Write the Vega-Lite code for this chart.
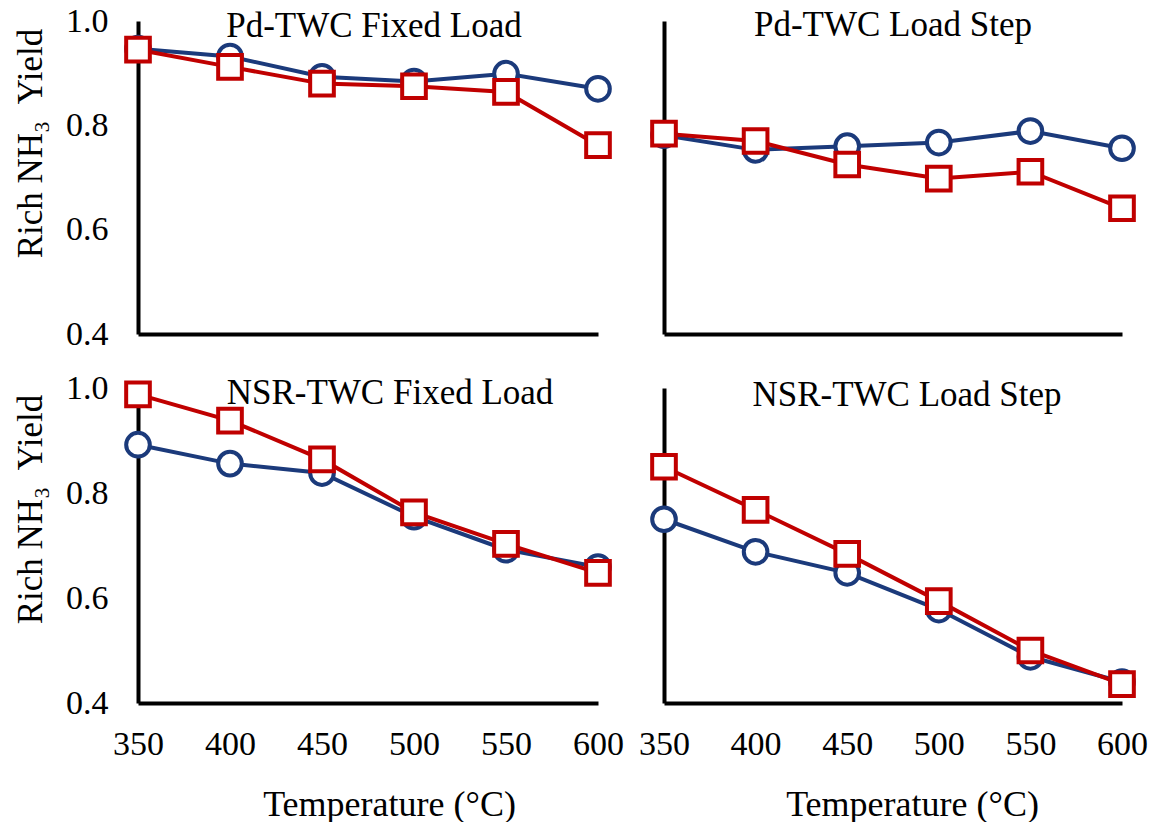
{
  "$schema": "https://vega.github.io/schema/vega-lite/v6.json",
  "padding": {"left": 13, "top": 4, "right": 0, "bottom": 0},
  "background": "white",
  "config": {
    "font": "Liberation Serif",
    "view": {"stroke": null},
    "axis": {"grid": false, "ticks": false, "labelFlush": false, "domainColor": "black", "domainWidth": 4, "labelColor": "black", "titleColor": "black", "labelFont": "Liberation Serif", "titleFont": "Liberation Serif", "labelFontSize": 34, "titleFontSize": 35, "titleFontWeight": "normal"},
    "title": {"font": "Liberation Serif", "fontSize": 35, "fontWeight": "normal", "color": "black", "anchor": "middle"}
  },
  "data": {"values": [
    {"panel": "Pd-TWC Fixed Load", "series": "Series 1", "temp": 350, "value": 0.947},
    {"panel": "Pd-TWC Fixed Load", "series": "Series 1", "temp": 400, "value": 0.932},
    {"panel": "Pd-TWC Fixed Load", "series": "Series 1", "temp": 450, "value": 0.893},
    {"panel": "Pd-TWC Fixed Load", "series": "Series 1", "temp": 500, "value": 0.884},
    {"panel": "Pd-TWC Fixed Load", "series": "Series 1", "temp": 550, "value": 0.899},
    {"panel": "Pd-TWC Fixed Load", "series": "Series 1", "temp": 600, "value": 0.870},
    {"panel": "Pd-TWC Fixed Load", "series": "Series 2", "temp": 350, "value": 0.945},
    {"panel": "Pd-TWC Fixed Load", "series": "Series 2", "temp": 400, "value": 0.912},
    {"panel": "Pd-TWC Fixed Load", "series": "Series 2", "temp": 450, "value": 0.880},
    {"panel": "Pd-TWC Fixed Load", "series": "Series 2", "temp": 500, "value": 0.875},
    {"panel": "Pd-TWC Fixed Load", "series": "Series 2", "temp": 550, "value": 0.864},
    {"panel": "Pd-TWC Fixed Load", "series": "Series 2", "temp": 600, "value": 0.762},
    {"panel": "Pd-TWC Load Step", "series": "Series 1", "temp": 350, "value": 0.781},
    {"panel": "Pd-TWC Load Step", "series": "Series 1", "temp": 400, "value": 0.753},
    {"panel": "Pd-TWC Load Step", "series": "Series 1", "temp": 450, "value": 0.760},
    {"panel": "Pd-TWC Load Step", "series": "Series 1", "temp": 500, "value": 0.767},
    {"panel": "Pd-TWC Load Step", "series": "Series 1", "temp": 550, "value": 0.789},
    {"panel": "Pd-TWC Load Step", "series": "Series 1", "temp": 600, "value": 0.756},
    {"panel": "Pd-TWC Load Step", "series": "Series 2", "temp": 350, "value": 0.784},
    {"panel": "Pd-TWC Load Step", "series": "Series 2", "temp": 400, "value": 0.770},
    {"panel": "Pd-TWC Load Step", "series": "Series 2", "temp": 450, "value": 0.725},
    {"panel": "Pd-TWC Load Step", "series": "Series 2", "temp": 500, "value": 0.698},
    {"panel": "Pd-TWC Load Step", "series": "Series 2", "temp": 550, "value": 0.711},
    {"panel": "Pd-TWC Load Step", "series": "Series 2", "temp": 600, "value": 0.641},
    {"panel": "NSR-TWC Fixed Load", "series": "Series 1", "temp": 350, "value": 0.892},
    {"panel": "NSR-TWC Fixed Load", "series": "Series 1", "temp": 400, "value": 0.856},
    {"panel": "NSR-TWC Fixed Load", "series": "Series 1", "temp": 450, "value": 0.838},
    {"panel": "NSR-TWC Fixed Load", "series": "Series 1", "temp": 500, "value": 0.755},
    {"panel": "NSR-TWC Fixed Load", "series": "Series 1", "temp": 550, "value": 0.692},
    {"panel": "NSR-TWC Fixed Load", "series": "Series 1", "temp": 600, "value": 0.659},
    {"panel": "NSR-TWC Fixed Load", "series": "Series 2", "temp": 350, "value": 0.988},
    {"panel": "NSR-TWC Fixed Load", "series": "Series 2", "temp": 400, "value": 0.938},
    {"panel": "NSR-TWC Fixed Load", "series": "Series 2", "temp": 450, "value": 0.864},
    {"panel": "NSR-TWC Fixed Load", "series": "Series 2", "temp": 500, "value": 0.763},
    {"panel": "NSR-TWC Fixed Load", "series": "Series 2", "temp": 550, "value": 0.703},
    {"panel": "NSR-TWC Fixed Load", "series": "Series 2", "temp": 600, "value": 0.648},
    {"panel": "NSR-TWC Load Step", "series": "Series 1", "temp": 350, "value": 0.750},
    {"panel": "NSR-TWC Load Step", "series": "Series 1", "temp": 400, "value": 0.688},
    {"panel": "NSR-TWC Load Step", "series": "Series 1", "temp": 450, "value": 0.648},
    {"panel": "NSR-TWC Load Step", "series": "Series 1", "temp": 500, "value": 0.578},
    {"panel": "NSR-TWC Load Step", "series": "Series 1", "temp": 550, "value": 0.488},
    {"panel": "NSR-TWC Load Step", "series": "Series 1", "temp": 600, "value": 0.440},
    {"panel": "NSR-TWC Load Step", "series": "Series 2", "temp": 350, "value": 0.850},
    {"panel": "NSR-TWC Load Step", "series": "Series 2", "temp": 400, "value": 0.768},
    {"panel": "NSR-TWC Load Step", "series": "Series 2", "temp": 450, "value": 0.684},
    {"panel": "NSR-TWC Load Step", "series": "Series 2", "temp": 500, "value": 0.594},
    {"panel": "NSR-TWC Load Step", "series": "Series 2", "temp": 550, "value": 0.500},
    {"panel": "NSR-TWC Load Step", "series": "Series 2", "temp": 600, "value": 0.436}
  ]},
  "columns": 2,
  "bounds": "flush",
  "spacing": {"row": 54, "column": 66},
  "concat": [
    {
      "width": 460, "height": 313,
      "title": {"text": "Pd-TWC Fixed Load", "offset": -40, "dx": 6},
      "transform": [{"filter": "datum.panel === 'Pd-TWC Fixed Load'"}],
      "encoding": {
        "x": {"field": "temp", "type": "quantitative", "scale": {"domain": [350, 600], "nice": false, "zero": false}, "axis": {"labels": false, "title": null}},
        "y": {"field": "value", "type": "quantitative", "scale": {"domain": [0.4, 1.0], "nice": false, "zero": false}, "axis": {"values": [0.4, 0.6, 0.8, 1.0], "format": ".1f", "labelPadding": 30, "title": "Rich NH₃\u00a0 Yield", "titlePadding": 17, "titleY": 122}}
      },
      "layer": [
        {"mark": {"type": "line", "strokeWidth": 4}, "encoding": {"color": {"field": "series", "type": "nominal", "scale": {"domain": ["Series 1", "Series 2"], "range": ["#1B3A7B", "#C00000"]}, "legend": null}}},
        {"mark": {"type": "point", "filled": true, "fill": "white", "strokeWidth": 4, "size": 560, "opacity": 1}, "encoding": {"stroke": {"field": "series", "type": "nominal", "scale": {"domain": ["Series 1", "Series 2"], "range": ["#1B3A7B", "#C00000"]}, "legend": null}, "shape": {"field": "series", "type": "nominal", "scale": {"domain": ["Series 1", "Series 2"], "range": ["circle", "square"]}, "legend": null}}}
      ]
    },
    {
      "width": 458, "height": 313,
      "title": {"text": "Pd-TWC Load Step", "offset": -22, "dx": 0},
      "transform": [{"filter": "datum.panel === 'Pd-TWC Load Step'"}],
      "encoding": {
        "x": {"field": "temp", "type": "quantitative", "scale": {"domain": [350, 600], "nice": false, "zero": false}, "axis": {"labels": false, "title": null}},
        "y": {"field": "value", "type": "quantitative", "scale": {"domain": [0.4, 1.0], "nice": false, "zero": false}, "axis": {"labels": false, "title": null}}
      },
      "layer": [
        {"mark": {"type": "line", "strokeWidth": 4}, "encoding": {"color": {"field": "series", "type": "nominal", "scale": {"domain": ["Series 1", "Series 2"], "range": ["#1B3A7B", "#C00000"]}, "legend": null}}},
        {"mark": {"type": "point", "filled": true, "fill": "white", "strokeWidth": 4, "size": 560, "opacity": 1}, "encoding": {"stroke": {"field": "series", "type": "nominal", "scale": {"domain": ["Series 1", "Series 2"], "range": ["#1B3A7B", "#C00000"]}, "legend": null}, "shape": {"field": "series", "type": "nominal", "scale": {"domain": ["Series 1", "Series 2"], "range": ["circle", "square"]}, "legend": null}}}
      ]
    },
    {
      "width": 460, "height": 315,
      "title": {"text": "NSR-TWC Fixed Load", "offset": -40, "dx": 22},
      "transform": [{"filter": "datum.panel === 'NSR-TWC Fixed Load'"}],
      "encoding": {
        "x": {"field": "temp", "type": "quantitative", "scale": {"domain": [350, 600], "nice": false, "zero": false}, "axis": {"values": [350, 400, 450, 500, 550, 600], "format": "d", "labelPadding": 24, "title": "Temperature (°C)", "titlePadding": 26, "titleX": 251, "titleFontSize": 36}},
        "y": {"field": "value", "type": "quantitative", "scale": {"domain": [0.4, 1.0], "nice": false, "zero": false}, "axis": {"values": [0.4, 0.6, 0.8, 1.0], "format": ".1f", "labelPadding": 30, "title": "Rich NH₃\u00a0 Yield", "titlePadding": 17, "titleY": 121}}
      },
      "layer": [
        {"mark": {"type": "line", "strokeWidth": 4}, "encoding": {"color": {"field": "series", "type": "nominal", "scale": {"domain": ["Series 1", "Series 2"], "range": ["#1B3A7B", "#C00000"]}, "legend": null}}},
        {"mark": {"type": "point", "filled": true, "fill": "white", "strokeWidth": 4, "size": 560, "opacity": 1}, "encoding": {"stroke": {"field": "series", "type": "nominal", "scale": {"domain": ["Series 1", "Series 2"], "range": ["#1B3A7B", "#C00000"]}, "legend": null}, "shape": {"field": "series", "type": "nominal", "scale": {"domain": ["Series 1", "Series 2"], "range": ["circle", "square"]}, "legend": null}}}
      ]
    },
    {
      "width": 458, "height": 315,
      "title": {"text": "NSR-TWC Load Step", "offset": -25, "dx": 14},
      "transform": [{"filter": "datum.panel === 'NSR-TWC Load Step'"}],
      "encoding": {
        "x": {"field": "temp", "type": "quantitative", "scale": {"domain": [350, 600], "nice": false, "zero": false}, "axis": {"values": [350, 400, 450, 500, 550, 600], "format": "d", "labelPadding": 24, "title": "Temperature (°C)", "titlePadding": 26, "titleX": 248, "titleFontSize": 36}},
        "y": {"field": "value", "type": "quantitative", "scale": {"domain": [0.4, 1.0], "nice": false, "zero": false}, "axis": {"labels": false, "title": null}}
      },
      "layer": [
        {"mark": {"type": "line", "strokeWidth": 4}, "encoding": {"color": {"field": "series", "type": "nominal", "scale": {"domain": ["Series 1", "Series 2"], "range": ["#1B3A7B", "#C00000"]}, "legend": null}}},
        {"mark": {"type": "point", "filled": true, "fill": "white", "strokeWidth": 4, "size": 560, "opacity": 1}, "encoding": {"stroke": {"field": "series", "type": "nominal", "scale": {"domain": ["Series 1", "Series 2"], "range": ["#1B3A7B", "#C00000"]}, "legend": null}, "shape": {"field": "series", "type": "nominal", "scale": {"domain": ["Series 1", "Series 2"], "range": ["circle", "square"]}, "legend": null}}}
      ]
    }
  ]
}
